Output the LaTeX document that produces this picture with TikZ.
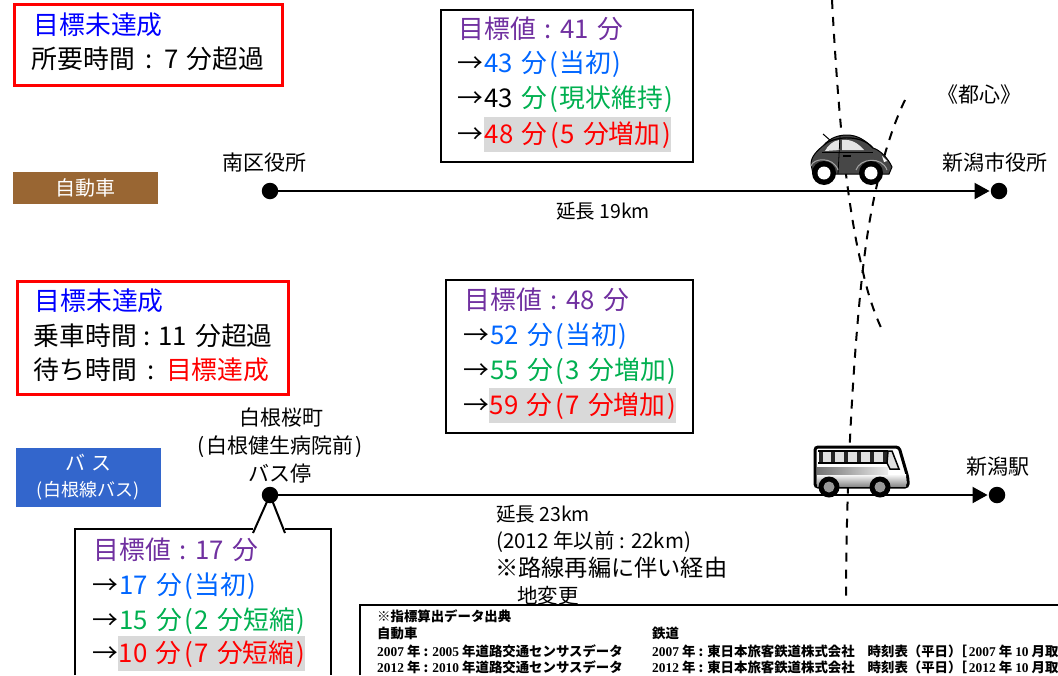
\documentclass[tikz,border=0pt]{standalone}
\usepackage{fontspec}
\usetikzlibrary{arrows.meta}
\setmainfont{Noto Sans CJK JP}
\newfontfamily\fnserif{Liberation Serif}[Scale=1.0]
\definecolor{cblue}{HTML}{0066FF}
\definecolor{cpure}{HTML}{0000FF}
\definecolor{cgreen}{HTML}{00B050}
\definecolor{cpurple}{HTML}{7030A0}
\definecolor{cred}{HTML}{FF0000}
\definecolor{chigh}{HTML}{D9D9D9}
\definecolor{cbrown}{HTML}{996633}
\definecolor{cbus}{HTML}{3366CC}
\newcommand{\fsz}[1]{\fontsize{#1}{#1}\selectfont}
\newcommand{\ft}[1]{{\fnserif\bfseries #1}}
\newcommand{\LP}{\hspace{2.5pt}(\hspace{1.5pt}}
\newcommand{\RP}{\hspace{1.5pt})}
\newcommand{\CL}{\hspace{11pt}:\hspace{11pt}}
\newcommand{\CM}{\hspace{8.5pt}:\hspace{8.5pt}}
\newcommand{\SP}{\hspace{8.5pt}}
\tikzset{
  big/.style={anchor=west,inner sep=0pt,font=\fsz{25.8},text height=21pt,text depth=3pt},
  mid/.style={inner sep=0pt,font=\fsz{21},text height=18pt,text depth=3pt},
  midl/.style={anchor=west,inner sep=0pt,font=\fsz{20.5},text height=18pt,text depth=3pt},
  hl/.style={big,fill=chigh,minimum height=35pt,inner xsep=0.5pt},
  redbox/.style={draw=cred,line width=3pt,anchor=north west,inner sep=0pt},
  blackbox/.style={draw=black,line width=2pt,anchor=north west,inner sep=0pt},
  tagbox/.style={anchor=north west,inner sep=0pt,text=white,font=\fsz{20}},
  stopdot/.style={circle,fill=black,inner sep=0pt,minimum size=16.5pt},
  road/.style={line width=2pt,draw=black},
  roadarrow/.style={road,-{Triangle[length=15pt,width=16pt]},shorten >=1pt},
  dashline/.style={line width=2pt,draw=black,dash pattern=on 9pt off 8pt},
  foot/.style={anchor=west,inner sep=0pt,font=\fsz{13.4}\bfseries,text height=11pt,text depth=2pt},
}
\begin{document}
\begin{tikzpicture}[x=1pt,y=-1pt]
\useasboundingbox (0,0) rectangle (1058,675);
\fill[white] (0,0) rectangle (1058,675);

% dashed lines
\coordinate (a0) at (832,0);
\coordinate (a1) at (883,332);
\coordinate (b0) at (905,100);
\coordinate (b1) at (846,602);
\draw[dashline] (a0) .. controls (838,110) and (845,185) .. (858,250) -- (863,272) .. controls (868,295) and (875,315) .. (a1);
\draw[dashline] (b0) .. controls (888,135) and (873,190) .. (865,252) .. controls (856,320) and (846,460) .. (b1);

% boxes
\node[redbox,minimum width=268pt,minimum height=81pt] (b1box) at (13,2.5) {};
\node[big,text=cpure] (t11) at (33.5,25) {目標未達成};
\node[big] (t12) at (31.5,59) {所要時間\CL 7\SP 分超過};

\node[blackbox,minimum width=252pt,minimum height=152pt] (b2box) at (440,8.5) {};
\node[big,text=cpurple] (t21) at (458.5,29) {目標値\CM 41\SP 分};
\node[big] (t22a) at (457,63) {→};
\node[big,text=cblue] (t22) at (484,63) {43\SP 分\LP 当初\RP};
\node[big] (t23a) at (457,98) {→};
\node[big] (t23) at (484,98) {43\SP\textcolor{cgreen}{分\LP 現状維持\RP}};
\node[big] (t24a) at (457,134) {→};
\node[hl,text=cred] (t24) at (484,134) {48\SP 分\LP 5\SP 分増加\RP};

\node[redbox,minimum width=271pt,minimum height=113pt] (b3box) at (15.5,279.5) {};
\node[big,text=cpure] (t31) at (34.5,301) {目標未達成};
\node[big] (t32) at (33.5,336) {乗車時間\hspace{7pt}:\hspace{7pt}11\SP 分超過};
\node[big] (t33) at (33.5,370) {待ち時間\CL\textcolor{cred}{目標達成}};

\node[blackbox,minimum width=247pt,minimum height=153pt] (b4box) at (445,279) {};
\node[big,text=cpurple] (t41) at (464.5,300) {目標値\CM 48\SP 分};
\node[big] (t42a) at (463,335) {→};
\node[big,text=cblue] (t42) at (490,335) {52\SP 分\LP 当初\RP};
\node[big] (t43a) at (463,370) {→};
\node[big,text=cgreen] (t43) at (490,370) {55\SP 分\LP 3\SP 分増加\RP};
\node[big] (t44a) at (463,405) {→};
\node[hl,text=cred] (t44) at (489,405) {59\SP 分\LP 7\SP 分増加\RP};

% tags
\node[tagbox,fill=cbrown,minimum width=145pt,minimum height=32pt,font=\fsz{20}] (tag1) at (13,172) {自動車};
\node[tagbox,fill=cbus,minimum width=145pt,minimum height=59pt] (tag2) at (16,448) {};
\node[inner sep=0pt,text=white,font=\fsz{20}] (tag2a) at (88,463) {バ\hspace{6pt}ス};
\node[inner sep=0pt,text=white,font=\fsz{18}] (tag2b) at (88,491) {(白根線バス)};

% stops and roads
\node[stopdot] (s1) at (270,191) {};
\node[stopdot] (e1) at (999,191) {};
\node[stopdot] (s2) at (270,495) {};
\node[stopdot] (e2) at (997,495) {};
\draw[roadarrow] (s1) -- (e1);
\draw[roadarrow] (s2) -- (e2);

\node[mid] (l1) at (264,163) {南区役所};
\node[mid] (l2) at (995,163) {新潟市役所};
\node[mid,font=\fsz{21}] (l3) at (979,95) {《都心》};
\node[mid,font=\fsz{19.5}] (l4) at (603,211) {延長 19km};
\node[mid] (l5) at (281,418) {白根桜町};
\node[mid,font=\fsz{21}] (l6) at (280,446) {\hspace{1pt}(\hspace{2pt}白根健生病院前\hspace{2pt})};
\node[mid] (l7) at (280,474) {バス停};
\node[mid] (l8) at (998,467) {新潟駅};

\node[midl,font=\fsz{19.5}] (r1) at (496,514) {延長 23km};
\node[midl] (r2) at (496,541) {(2012 年以前 : 22km)};
\node[midl,font=\fsz{23.2}] (r3) at (495,569) {※路線再編に伴い経由};
\node[midl,font=\fsz{20.5}] (r4) at (517,596) {地変更};

% callout
\coordinate (c0) at (75,675);
\coordinate (c1) at (75,529);
\coordinate (c2) at (253,529);
\coordinate (c3) at (285,533);
\coordinate (c3b) at (285,529);
\coordinate (c4) at (331,529);
\coordinate (c5) at (331,675);
\draw[line width=2pt] (c0) -- (c1) -- (c2);
\draw[line width=2pt] (c3b) -- (c4) -- (c5);
\draw[line width=2pt] (253,533) -- (s2.center) -- (c3);
\node[big,text=cpurple] (t51) at (93.5,550) {目標値\CM 17\SP 分};
\node[big] (t52a) at (92,585) {→};
\node[big,text=cblue] (t52) at (119,585) {17\SP 分\LP 当初\RP};
\node[big] (t53a) at (92,620) {→};
\node[big,text=cgreen] (t53) at (119,620) {15\SP 分\LP 2\SP 分短縮\RP};
\node[big] (t54a) at (92,653) {→};
\node[hl,text=cred] (t54) at (118,653) {10\SP 分\LP 7\SP 分短縮\RP};

% footnote
\coordinate (f0) at (360,675);
\coordinate (f1) at (360,605);
\coordinate (f2) at (1058,605);
\draw[line width=2pt] (f0) -- (f1) -- (f2);
\node[foot] (n1) at (377,617) {※指標算出データ出典};
\node[foot] (n2) at (377,634) {自動車};
\node[foot] (n3) at (377,652) {\ft{2007} 年 : \ft{2005} 年道路交通センサスデータ};
\node[foot] (n4) at (377,668) {\ft{2012} 年 : \ft{2010} 年道路交通センサスデータ};
\node[foot] (n5) at (652,634) {鉄道};
\node[foot] (n6) at (652,652) {\ft{2007} 年 : 東日本旅客鉄道株式会社\hspace{13pt}時刻表（平日）\hspace{-8pt}［\hspace{2pt}\ft{2007} 年 \ft{10} 月取};
\node[foot] (n7) at (652,668) {\ft{2012} 年 : 東日本旅客鉄道株式会社\hspace{13pt}時刻表（平日）\hspace{-8pt}［\hspace{2pt}\ft{2012} 年 \ft{10} 月取};

% car
\draw[line width=1pt] (823,134) -- (831,141);
\fill[black!72,draw=black,line width=1pt] (811,164) .. controls (811,156) and (818,150) .. (824,145) .. controls (830,138) and (838,135) .. (847,135) .. controls (858,135) and (866,141) .. (873,148) .. controls (880,150) and (888,158) .. (892,167) -- (889,174) -- (813,174) -- cycle;
\fill[black!10] (825,151) .. controls (828,145) and (833,141) .. (839,140) -- (840,150) -- cycle;
\fill[black!10] (842,140) .. controls (851,139) and (858,143) .. (864,150) -- (842,150) -- cycle;
\fill[white] (882,156) -- (887,161) -- (884,162) -- cycle;
\draw[line width=1.2pt] (824,145) .. controls (832,137) and (860,133) .. (873,148);
\draw[line width=0.8pt] (822,152) -- (873,152);
\draw[line width=0.8pt] (840,136) -- (838,174);
\draw[line width=1.2pt,black] (843,156) -- (851,156);
\draw[line width=1pt,black!35] (811,166) .. controls (813,158) and (833,156) .. (838,170);
\draw[line width=1pt,black!35] (856,170) .. controls (860,158) and (882,156) .. (887,170);
\fill[black] (824,173) circle (12pt);
\fill[white] (824,173) circle (6.5pt);
\fill[black] (871,173) circle (12pt);
\fill[white] (871,173) circle (6.5pt);

% bus
\fill[white,draw=black,line width=3pt,rounded corners=3pt] (815,447) -- (899,447) -- (908,478) -- (908,487) -- (815,487) -- cycle;
\shade[top color=white,bottom color=black!45] (817,474) rectangle (906,486);
\fill[black!12] (820,451) rectangle (889,463);
\foreach \k in {819,831,844,857,870,883} \fill[black!85] (\k,450) rectangle ++(3.5,14);
\fill[black!12,draw=black,line width=1.5pt] (888,451) -- (892,451) -- (899,469) -- (890,469) -- (887,463) -- cycle;
\draw[line width=1.5pt] (818,451) -- (888,451);
\draw[line width=1.5pt] (818,463) -- (888,463);
\shade[left color=black!55,right color=black!8] (817,467) rectangle (888,474);
\fill[black] (829,487) circle (10.5pt);
\fill[black!40] (829,487) circle (5.5pt);
\fill[black] (880,487) circle (10.5pt);
\fill[black!40] (880,487) circle (5.5pt);
\end{tikzpicture}
\end{document}
